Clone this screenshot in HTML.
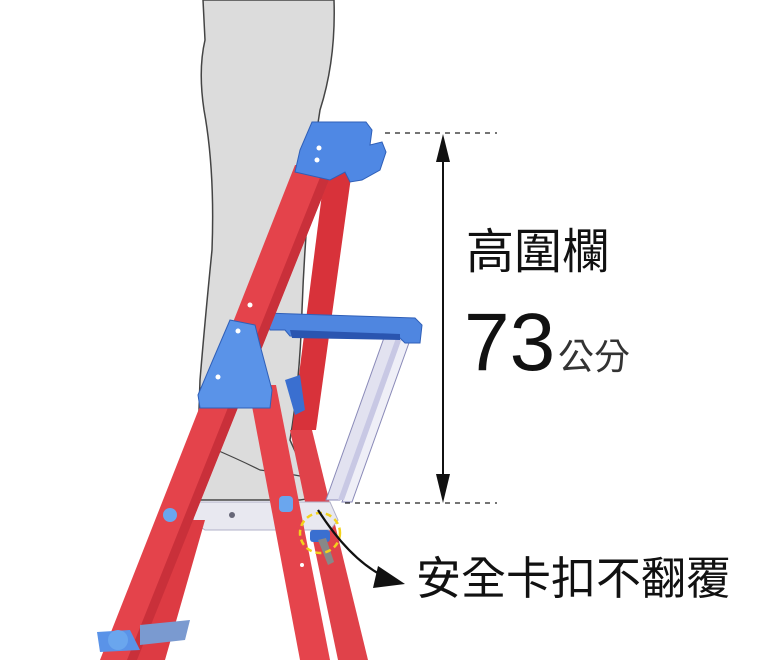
<!DOCTYPE html>
<html><head><meta charset="utf-8"><style>
html,body{margin:0;padding:0;background:#fff;}
svg{display:block;}
text{font-family:"Liberation Sans","Noto Sans CJK TC",sans-serif;fill:#111;}
</style></head><body>
<svg width="768" height="660" viewBox="0 0 768 660" xmlns="http://www.w3.org/2000/svg">
<!-- leg -->
<path d="M203 0 L205 40 Q198 70 204 110 Q215 170 212 250 Q205 320 200 380 L196 500 L300 500 Q322 498 322 482 Q318 470 300 462 L290 440 Q300 380 302 310 Q306 200 320 110 Q336 60 334 0 Z" fill="#dcdcdc" stroke="#444" stroke-width="1.5"/>
<path d="M212 448 Q240 460 260 470 Q300 475 318 480" fill="none" stroke="#444" stroke-width="1.2"/>
<!-- rear red rail -->
<polygon points="325,170 352,170 316,430 292,430" fill="#d8323a"/>
<polygon points="290,430 312,430 368,660 338,660" fill="#e0424a"/>
<!-- white support bars -->
<polygon points="385,335 398,335 340,500 326,500" fill="#e2e2f0" stroke="#8a8ab8" stroke-width="1"/>
<polygon points="400,340 410,340 352,502 342,502" fill="#efeff7" stroke="#8a8ab8" stroke-width="1"/>
<polygon points="396,338 402,338 344,500 338,500" fill="#c8c8e4"/>
<!-- blue tray -->
<path d="M265 313 L415 318 L422 325 L420 343 L405 343 L400 338 L290 336 L285 330 L270 330 Z" fill="#4f86e0" stroke="#2f5fb8" stroke-width="1"/>
<path d="M290 330 L400 334 L400 340 L292 338 Z" fill="#2a55b0"/>
<!-- rear small blue -->
<polygon points="285,380 300,375 305,410 295,415" fill="#3a6fd0"/>
<!-- step white -->
<polygon points="195,502 330,502 338,520 330,530 205,530 193,522" fill="#e8e8f0" stroke="#b0b0c8" stroke-width="1"/>
<circle cx="232" cy="515" r="3" fill="#667"/>
<!-- second front rail -->
<polygon points="248,385 276,385 330,660 300,660" fill="#e5444c"/>
<!-- lower left back rail -->
<polygon points="175,520 205,520 165,660 135,660" fill="#dd3b43"/>
<!-- front main rail -->
<polygon points="295,165 335,165 137,660 100,660" fill="#e4434b"/>
<polygon points="325,165 335,165 137,660 127,660" fill="#c9303a"/>
<!-- blue top cap -->
<path d="M312 122 L366 122 L372 130 L370 145 L382 142 L386 152 L380 170 L362 180 L350 182 L345 172 L330 180 L295 172 L300 150 Z" fill="#4f88e4" stroke="#2f5fb8" stroke-width="1"/>
<circle cx="319" cy="148" r="2.5" fill="#fff"/><circle cx="317" cy="160" r="2.5" fill="#fff"/>
<!-- blue bracket -->
<polygon points="230,320 255,325 260,345 272,390 270,408 200,408 198,395 212,362" fill="#5a93e8" stroke="#2f5fb8" stroke-width="1"/>
<circle cx="238" cy="331" r="2.5" fill="#fff"/><circle cx="218" cy="377" r="2.5" fill="#fff"/>
<circle cx="250" cy="305" r="2.5" fill="#fff"/>
<!-- bolts -->
<circle cx="170" cy="515" r="7" fill="#6aa6ee"/>
<rect x="279" y="496" width="14" height="16" rx="4" fill="#6aa6ee"/>
<circle cx="302" cy="565" r="2" fill="#fff"/>
<!-- latch -->
<rect x="310" y="530" width="20" height="12" rx="3" fill="#3a6fd0"/>
<polygon points="318,540 326,538 334,562 328,565" fill="#888"/>
<!-- lower blue step -->
<polygon points="140,625 190,620 185,640 140,645" fill="#7a9ad0"/>
<polygon points="97,632 130,630 140,650 100,652" fill="#5a93e8"/>
<circle cx="118" cy="640" r="10" fill="#6aa6ee"/>
<!-- yellow dashed circle -->
<circle cx="320" cy="533" r="20" fill="none" stroke="#f2d21c" stroke-width="2.5" stroke-dasharray="6,4"/>
<!-- dashed lines -->
<line x1="385" y1="133" x2="497" y2="133" stroke="#222" stroke-width="1.3" stroke-dasharray="5,5"/>
<line x1="345" y1="503" x2="497" y2="503" stroke="#222" stroke-width="1.3" stroke-dasharray="5,5"/>
<!-- vertical dimension arrow -->
<line x1="443" y1="150" x2="443" y2="486" stroke="#111" stroke-width="2"/>
<polygon points="443,134 436,162 450,162" fill="#111"/>
<polygon points="443,503 436,474 450,474" fill="#111"/>
<!-- curved arrow -->
<path d="M318 510 Q350 560 385 577" fill="none" stroke="#111" stroke-width="2.2"/>
<polygon points="405,584 378,566 373,588" fill="#111"/>
<!-- text -->
<text x="466" y="268" font-size="48">高圍欄</text>
<text x="464" y="370" font-size="82">73</text>
<text x="558" y="369" font-size="36" style="fill:#333">公分</text>
<text x="416" y="594" font-size="45">安全卡扣不翻覆</text>
</svg>
</body></html>
